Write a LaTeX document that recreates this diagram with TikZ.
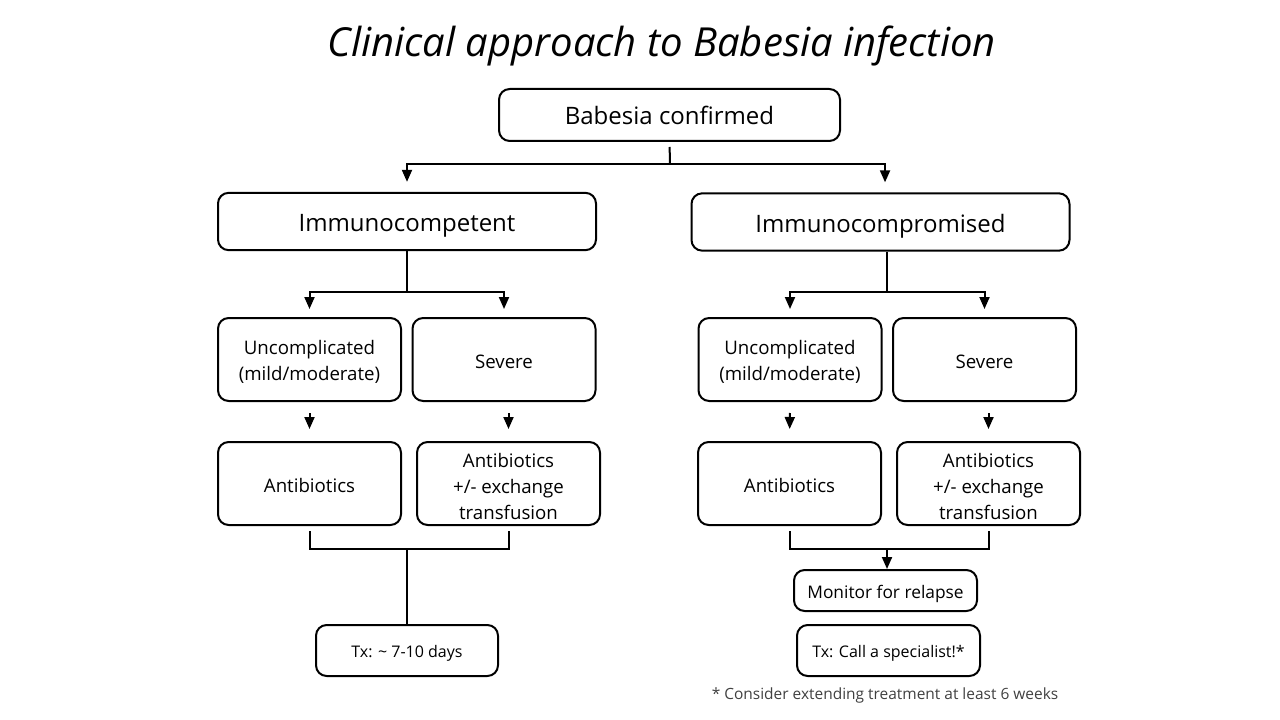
\documentclass[tikz,border=0pt]{standalone}
\usepackage{fontspec}
\setmainfont{Open Sans}
\usetikzlibrary{arrows.meta}
\newcommand{\tstrut}{\rule{0pt}{14.5pt}}
\tikzset{
  frame/.style={draw, line width=1.5pt, rounded corners=8pt, inner sep=0pt, align=center},
  box/.style={frame, font=\fontsize{14}{19.5}\selectfont, minimum width=137.25pt, minimum height=62.25pt,
    execute at begin node={\rule{0pt}{14pt}}},
  bigbox/.style={frame, font=\fontsize{18}{22}\selectfont, minimum width=283.5pt, minimum height=43pt,
    execute at begin node={\rule{0pt}{19.5pt}}},
  txbox/.style={frame, font=\fontsize{12}{15}\selectfont, minimum width=137.25pt, minimum height=38.25pt,
    execute at begin node={\rule{0pt}{13.6pt}}},
  link/.style={line width=1.5pt},
  arr/.style={link, -{Triangle[width=7.5pt,length=9pt]}}
}
\begin{document}
\begin{tikzpicture}[x=0.75pt,y=-0.75pt]
\useasboundingbox (0,0) rectangle (1280,720);
\node[font=\itshape\fontsize{30}{36}\selectfont] (title) at (662,46) {Clinical approach to Babesia infection};
\node[frame, font=\fontsize{18}{22}\selectfont, minimum width=255.75pt, minimum height=39pt] (conf) at (669.5,115) {Babesia confirmed};
\node[bigbox] (imc) at (407,221.5) {Immunocompetent};
\node[bigbox] (imp) at (880.5,222) {Immunocompromised};
% left branch
\node[box] (unc1) at (309.5,359.5) {\tstrut Uncomplicated\\(mild/moderate)};
\node[box] (sev1) at (504,359.5) {Severe};
\node[box] (ab1) at (309.5,483.5) {Antibiotics};
\node[box] (abx1) at (508.5,483.5) {\tstrut Antibiotics\\+/- exchange\\transfusion};
\node[txbox, minimum width=136.5pt] (tx1) at (407,650.5) {Tx: \textasciitilde{} 7-10 days};
% right branch
\node[box] (unc2) at (790,359.5) {\tstrut Uncomplicated\\(mild/moderate)};
\node[box] (sev2) at (984.5,359.5) {Severe};
\node[box] (ab2) at (789.5,483.5) {Antibiotics};
\node[box] (abx2) at (988.5,483.5) {\tstrut Antibiotics\\+/- exchange\\transfusion};
\node[frame, font=\fontsize{13}{16}\selectfont, minimum width=137.25pt, minimum height=30.75pt,
  execute at begin node={\rule{0pt}{14.4pt}}] (mon) at (885.5,590.5) {Monitor for relapse};
\node[txbox] (tx2) at (888.5,650.5) {Tx: Call a specialist!*};
\node[text=black!75, font=\fontsize{11.6}{14}\selectfont] (note) at (885,695) {* Consider extending treatment at least 6 weeks};
% connectors
\coordinate (top) at (670,164);
\draw[link, shorten <=3.75pt] (conf.south) -- (top);
\draw[arr, shorten >=7.5pt] (top) -| (imc.north);
\draw[arr, shorten >=7.5pt] (top) -| ([xshift=3.4pt]imp.north);
\coordinate (sl) at (407,292);
\coordinate (sr) at (887,292);
\draw[link] (imc.south) -- (sl);
\draw[link] (imp.south -| sr) -- (sr);
\draw[arr, shorten >=6pt] (sl) -| (unc1.north);
\draw[arr, shorten >=6pt] (sl) -| (sev1.north);
\draw[arr, shorten >=6pt] (sr) -| (unc2.north);
\draw[arr, shorten >=6pt] (sr) -| (sev2.north);
\draw[arr, shorten <=8.25pt, shorten >=9pt] (unc1.south) -- (ab1.north);
\draw[arr, shorten <=8.25pt, shorten >=9pt] (sev1.south -| abx1.north) -- (abx1.north);
\draw[arr, shorten <=8.25pt, shorten >=9pt] (unc2.south) -- (ab2.north);
\draw[arr, shorten <=8.25pt, shorten >=9pt] (sev2.south -| abx2.north) -- (abx2.north);
\coordinate (jl) at (407,549);
\coordinate (jr) at (887,549);
\draw[link, shorten <=3.75pt, shorten >=3.75pt] (ab1.south) |- (jl) -| (abx1.south);
\draw[link, shorten <=3.75pt, shorten >=3.75pt] (ab2.south) |- (jr) -| (abx2.south);
\draw[link] (jl) -- (tx1.north);
\draw[arr] (jr) -- (jr |- mon.north);
\end{tikzpicture}
\end{document}
